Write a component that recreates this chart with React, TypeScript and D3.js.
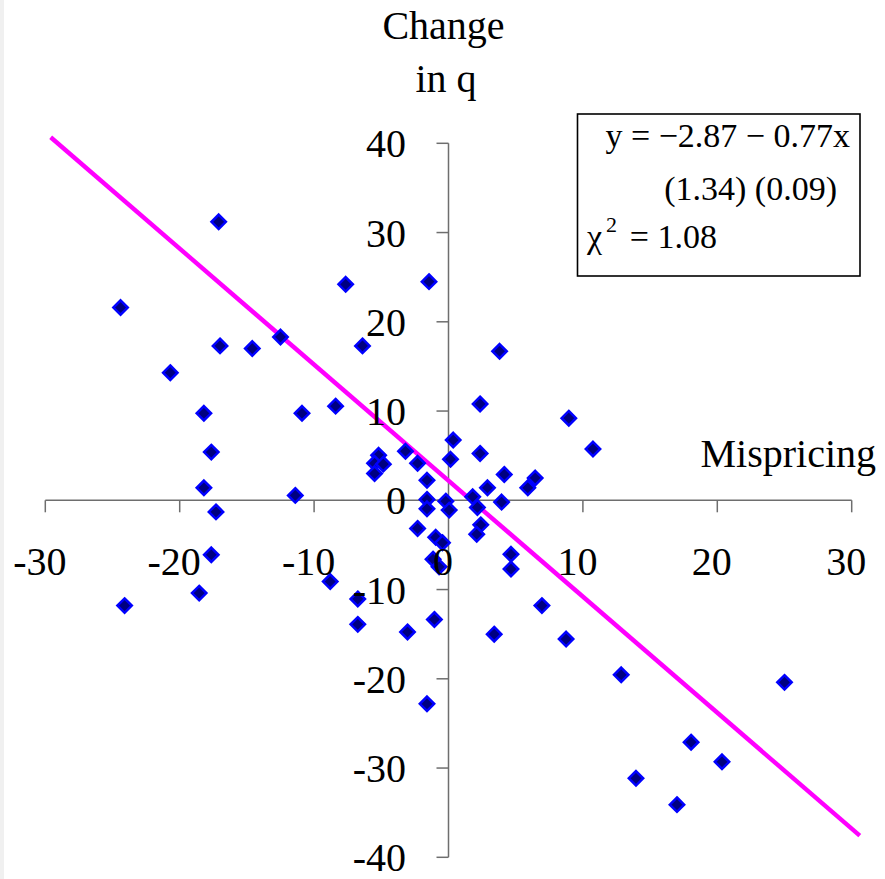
import React from "react";
import * as d3 from "d3";

// Data: [mispricing, change in q]
const mispricing: number[] = [
  -17.1, -24.4, -17.0, -14.6, -12.5, -20.7, -18.2, -10.9, -17.65, -18.2,
  -17.3, -17.65, -18.55, -24.1, -11.4, -7.65, -1.45, -6.4, 3.8, -8.4,
  2.35, 0.35, 2.35, 0.15, -3.2, -2.3, -5.2, -5.5, -4.85, -5.5,
  -1.6, 4.15, 2.9, 6.45, 5.9, 1.8, 2.15, 3.95, -1.6, -1.6,
  -0.2, 0.05, -2.3, -0.95, -0.45, 2.4, 2.1, -1.15, -0.7, 4.65,
  4.65, -8.8, -6.75, -6.75, -3.05, -1.05, 3.4, 6.95, -1.6, 8.95,
  10.75, 8.75, 12.85, 25.0, 18.05, 20.35, 13.95, 17.0,
];
const changeInQ: number[] = [
  31.2, 21.6, 17.3, 17.0, 18.3, 14.3, 9.75, 9.75, 5.4, 1.4,
  -1.3, -6.1, -10.4, -11.8, 0.55, 24.2, 24.5, 17.3, 16.7, 10.55,
  10.8, 6.75, 5.25, 4.6, 5.5, 4.15, 5.05, 4.15, 4.05, 3.0,
  2.25, 2.9, 1.4, 2.5, 1.4, 0.4, -0.8, -0.2, 0.1, -0.95,
  -0.1, -1.1, -3.15, -4.15, -4.75, -2.75, -3.8, -6.6, -7.45, -6.05,
  -7.7, -9.1, -11.05, -13.9, -14.75, -13.35, -15.0, -11.8, -22.8, 9.2,
  5.75, -15.55, -19.55, -20.4, -27.1, -29.3, -31.15, -34.1,
];

const xTicks: number[] = [-30, -20, -10, 0, 10, 20, 30];
const yTicks: number[] = [-40, -30, -20, -10, 0, 10, 20, 30, 40];

// Fitted line as drawn (intercept, slope) and its x extent
const lineIntercept = 2.2;
const lineSlope = -1.3;
const lineExtent: number[] = [-29.6, 30.6];

const titleLines: string[] = ["Change", "in q"];
const xTitle = "Mispricing";
const eqLine1 = "y = \u22122.87 \u2212 0.77x";
const eqLine2 = "(1.34) (0.09)";
const eqChi = "\u03C7";
const eqChiValue = "= 1.08";

export default function App() {
  const W = 885;
  const H = 879;
  const x = d3.scaleLinear().domain([-30, 30]).range([45.3, 851.7]);
  const y = d3.scaleLinear().domain([-40, 40]).range([857.3, 143.3]);
  const x0 = x(0);
  const y0 = y(0);
  const font = "'Liberation Serif', 'Times New Roman', serif";

  const linePath = d3.line<number>()
    .x((d) => x(d))
    .y((d) => y(lineIntercept + lineSlope * d))(lineExtent) || "";

  const diamond = (cx: number, cy: number, r: number) =>
    `M${cx},${cy - r}L${cx + r},${cy}L${cx},${cy + r}L${cx - r},${cy}Z`;

  const pts = mispricing.map((m, i) => [m, changeInQ[i]]);

  return (
    <svg
      width={W}
      height={H}
      style={{ position: "absolute", left: 0, top: 0, background: "#fff" }}
      fontFamily={font}
    >
      <rect x={0} y={0} width={W} height={H} fill="#fff" />
      <rect x={0} y={0} width={4} height={H} fill="#f0f0f0" />

      {/* axes */}
      <g stroke="#6e6e6e" strokeWidth={1.5} fill="none">
        <line x1={x(-30)} x2={x(30)} y1={y0} y2={y0} />
        {xTicks.map((t) => (
          <line key={"xt" + t} x1={x(t)} x2={x(t)} y1={y0} y2={y0 + 12} />
        ))}
        <line x1={x0} x2={x0} y1={y(40)} y2={y(-40)} />
        {yTicks.map((t) => (
          <line key={"yt" + t} x1={x0 - 12} x2={x0} y1={y(t)} y2={y(t)} />
        ))}
      </g>

      {/* fitted line */}
      <path d={linePath} stroke="#ff00ff" strokeWidth={4.4} fill="none" />

      {/* points */}
      <g fill="#000080" stroke="#0000ff" strokeWidth={2.5}>
        {pts.map((p, i) => (
          <path key={i} d={diamond(x(p[0]), y(p[1]), 7.2)} />
        ))}
      </g>

      {/* tick labels */}
      <g fontSize={40} fill="#000">
        {xTicks.map((t) => (
          <text key={"xl" + t} x={x(t) - 5.5} y={575} textAnchor="middle">
            {String(t)}
          </text>
        ))}
        {yTicks.map((t) => (
          <text key={"yl" + t} x={406} y={y(t) + 14} textAnchor="end">
            {String(t)}
          </text>
        ))}
      </g>

      {/* titles */}
      <g fontSize={40} fill="#000">
        <text x={443.5} y={39} textAnchor="middle">{titleLines[0]}</text>
        <text x={446} y={92} textAnchor="middle">{titleLines[1]}</text>
        <text x={876} y={467} textAnchor="end">{xTitle}</text>
      </g>

      {/* equation box */}
      <rect x={577.5} y={114} width={282.5} height={162} fill="#fff" stroke="#000" strokeWidth={1.6} />
      <g fontSize={34} fill="#000">
        <text x={850} y={147} textAnchor="end">{eqLine1}</text>
        <text x={837} y={200} textAnchor="end">{eqLine2}</text>
        <text x={587} y={248}>{eqChi}</text>
        <text x={606} y={232} fontSize={22}>2</text>
        <text x={717} y={248} textAnchor="end">{eqChiValue}</text>
      </g>
    </svg>
  );
}
